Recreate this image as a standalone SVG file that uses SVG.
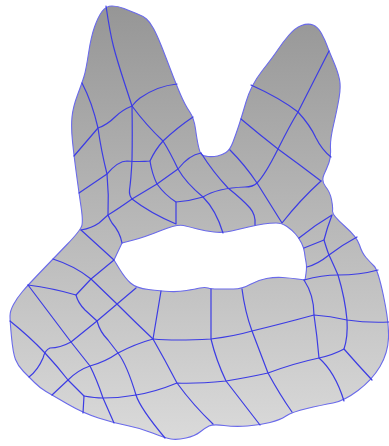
<svg xmlns="http://www.w3.org/2000/svg" width="389" height="446" viewBox="0 0 389 446">
<style>
.o{fill:url(#g);fill-rule:evenodd;stroke:#6a6aea;stroke-width:1.1;stroke-linejoin:round}
.m path{fill:none;stroke:#3c3ce4;stroke-width:1.2;stroke-linejoin:round;stroke-linecap:round}
</style>
<defs><linearGradient id="g" gradientUnits="userSpaceOnUse" x1="0" y1="6" x2="0" y2="440"><stop offset="0" stop-color="#969696"/><stop offset="1" stop-color="#dadada"/></linearGradient></defs>
<rect width="389" height="446" fill="#fff"/>
<path class="o" d="M112 6Q118 6 124 8.5Q130 11 136.5 13.5Q143 16 146.5 19Q150 22 153.5 28.5Q157 35 161 45Q165 55 170.5 69.5Q176 84 180.5 94.5Q185 105 189.5 111.5Q194 118 195.5 129Q197 140 198.5 146.5Q200 153 201.5 154.5Q203 156 208 156.5Q213 157 217.5 156Q222 155 226 152.5Q230 150 233 142Q236 134 238.5 126.5Q241 119 246 102Q251 85 262 71Q273 57 278 49.5Q283 42 289 35Q295 28 301.5 25.5Q308 23 313 25Q318 27 321.5 33.5Q325 40 327 45.5Q329 51 333.5 61.5Q338 72 339.5 79.5Q341 87 339 98.5Q337 110 333.5 125Q330 140 330.5 148.5Q331 157 329 162.5Q327 168 324 174.5Q321 181 325.5 186.5Q330 192 331.5 199.5Q333 207 332.5 211Q332 215 344.5 226Q357 237 359.5 245Q362 253 366 257.5Q370 262 374 266Q378 270 383.5 296Q389 322 388.5 337.5Q388 353 380 366.5Q372 380 358 390.5Q344 401 333 403Q322 405 307 408.5Q292 412 286 416Q280 420 270 422.5Q260 425 247.5 426Q235 427 224 425.5Q213 424 209 426Q205 428 200 432Q195 436 186 438Q177 440 171 439Q165 438 152.5 433Q140 428 127 425.5Q114 423 98.5 418Q83 413 67.5 404Q52 395 46 391.5Q40 388 34.5 382.5Q29 377 23.5 371.5Q18 366 15.5 359.5Q13 353 11.5 337Q10 321 10 316Q10 311 13.5 304.5Q17 298 22.5 291.5Q28 285 40.5 272Q53 259 67 244.5Q81 230 82 225Q83 220 81 206.5Q79 193 76.5 174.5Q74 156 72.5 141.5Q71 127 72 117Q73 107 77.5 95Q82 83 84 76.5Q86 70 88.5 53.5Q91 37 94.5 27Q98 17 102 11.5Q106 6 112 6Z
M122 243L133.5 240Q145 237 161 230.5Q177 224 183.5 225.5Q190 227 197.5 229Q205 231 214 232Q223 233 231.5 231Q240 229 248.5 227Q257 225 263.5 224Q270 223 276 223Q282 223 287 226.5Q292 230 295.5 234Q299 238 301.5 243Q304 248 304.5 252.5Q305 257 306 262Q307 267 306 273.5L305 280L297.5 279Q290 278 282.5 277.5Q275 277 266.5 278.5Q258 280 250 284.5Q242 289 233.5 289Q225 289 218 289Q211 289 208 288Q205 287 200 288Q195 289 186.5 290.5Q178 292 169.5 291.5Q161 291 148.5 289.5Q136 288 130.5 283Q125 278 119.5 269L114 260Z"/>
<g class="m">
<path d="M106 6Q110 33 113.5 46.5Q117 60 124.5 83L132 106Q132.5 135 132 160Q131 180 129.5 190Q129 195 132 199"/>
<path d="M177 84Q157 86 140 98Q136 101 132 106Q122 110 115 117Q107 125 98 128L74 156"/>
<path d="M82 83Q92 102 98 128Q101 150 107 174Q109 195 108 215Q110 220 112 223Q120 232 122 243"/>
<path d="M79 193L107 174Q118 161 127 161Q140 162 150 161Q155 150 163 141Q178 127 193 117"/>
<path d="M132 106Q146 125 163 141Q170 152 178 169Q186 183 203 197Q216 210 223 233"/>
<path d="M81 230Q92 228 99 223L108 215Q118 209 132 199L157 184L178 169Q189 155 201 153"/>
<path d="M132 199Q150 213 176 224L176 202"/>
<path d="M150 161Q152 174 157 184Q165 195 176 202Q190 201 203 197Q217 188 245 187Q253 187 257 183Q265 175 278 149Q290 125 298 112L329 51"/>
<path d="M201 153Q213 172 228 188Q243 200 250 208Q256 215 255 225"/>
<path d="M230 150Q245 165 257 183L282 223Q300 200 321 181"/>
<path d="M241 119Q260 135 278 149Q300 165 321 181"/>
<path d="M251 85Q280 98 298 112Q310 125 316 138Q322 150 331 157"/>
<path d="M299 238Q315 225 332 215Q327 228 324 240L304 248"/>
<path d="M324 240Q327 250 329 255Q335 268 338 275Q345 298 347 320Q348 337 344 349Q358 365 372 380"/>
<path d="M307 267Q318 264 329 255Q342 245 357 237"/>
<path d="M304 280Q322 275 338 275Q360 275 378 270"/>
<path d="M304 280Q314 295 314 315Q317 335 319 358Q335 372 344 401"/>
<path d="M153 339Q175 341 211 339Q235 336 252 331Q285 323 314 315Q330 316 347 320Q367 323 389 322"/>
<path d="M84 396Q95 398 103 398Q120 398 136 395Q155 392 177 383Q195 384 226 381Q250 377 268 373Q295 363 319 358Q333 355 344 349"/>
<path d="M211 289L211 339Q216 360 226 381L260 425"/>
<path d="M242 289Q245 312 252 331L268 373Q280 395 292 412"/>
<path d="M136 395Q140 408 165 438"/>
<path d="M161 291Q157 315 153 339Q165 360 177 383Q193 405 213 424"/>
<path d="M153 339Q135 344 118 353Q105 362 90 366Q78 370 68 380L52 395"/>
<path d="M136 288L97 321L71 342Q60 348 50 348Q45 350 43 358Q38 370 29 377"/>
<path d="M81 230L114 260L91 279L76 295Q78 303 85 310L97 321Q100 332 108 340L118 353Q127 365 136 395"/>
<path d="M53 259Q75 266 91 279L117 304Q135 322 153 339"/>
<path d="M28 285Q52 288 76 295"/>
<path d="M28 285L71 342L90 366Q97 380 103 398L114 423"/>
<path d="M10 321Q30 337 45 353Q58 367 68 380L84 396L83 413"/>
</g>
</svg>
